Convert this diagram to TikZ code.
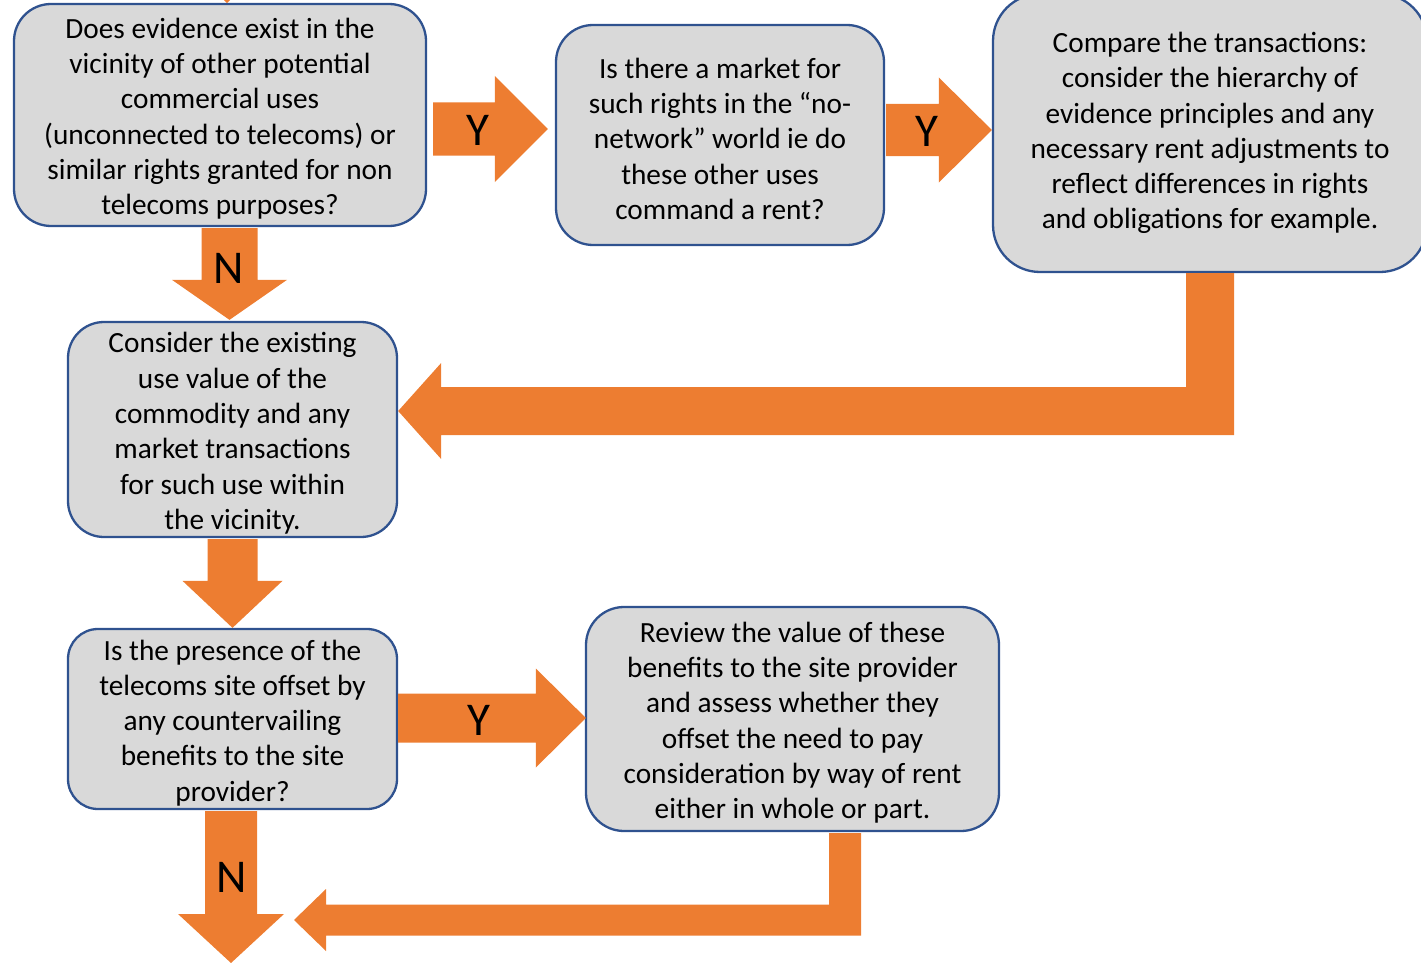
\documentclass[tikz,border=0pt]{standalone}
\usepackage{fontspec}
\setmainfont{Carlito}
\usetikzlibrary{calc}
\definecolor{arroworange}{HTML}{ED7D31}
\definecolor{boxgray}{HTML}{D9D9D9}
\definecolor{boxblue}{HTML}{2F528F}
% taller first line, so the text block sits slightly lower in its box
\newcommand{\flowstrut}{\rule{0pt}{28pt}}

\begin{document}
\begin{tikzpicture}[x=1pt,y=-1pt,
  stepbox/.style={draw=boxblue, fill=boxgray, line width=2.3pt, align=center,
    inner sep=0pt, font=\fontsize{29.3}{35.3}\selectfont},
  flow/.style={fill=arroworange},
  answer/.style={inner sep=0pt, font=\fontsize{47}{50}\selectfont}]
\useasboundingbox (0,0) rectangle (1421,963);
\clip (0,0) rectangle (1421,963);

% decision and action boxes
\node[stepbox, minimum width=412pt, minimum height=222pt, rounded corners=37pt] (q1) at (220,115)
  {\flowstrut Does evidence exist in the\\vicinity of other potential\\commercial uses\\(unconnected to telecoms) or\\similar rights granted for non\\telecoms purposes?};
\node[stepbox, minimum width=328pt, minimum height=220pt, rounded corners=37pt] (q2) at (720,135)
  {\flowstrut Is there a market for\\such rights in the “no-\\network” world ie do\\these other uses\\command a rent?};
\node[stepbox, minimum width=434pt, minimum height=278pt, rounded corners=47pt] (q3) at (1210,133)
  {Compare the transactions:\\consider the hierarchy of\\evidence principles and any\\necessary rent adjustments to\\reflect differences in rights\\and obligations for example.};
\node[stepbox, minimum width=329pt, minimum height=215pt, rounded corners=36pt] (q4) at (232.5,429.5)
  {\flowstrut Consider the existing\\use value of the\\commodity and any\\market transactions\\for such use within\\the vicinity.};
\node[stepbox, minimum width=329pt, minimum height=180pt, rounded corners=30pt] (q5) at (232.5,719)
  {\flowstrut Is the presence of the\\telecoms site offset by\\any countervailing\\benefits to the site\\provider?};
\node[stepbox, minimum width=413pt, minimum height=224pt, rounded corners=38pt] (q6) at (792.5,719)
  {\flowstrut Review the value of these\\benefits to the site provider\\and assess whether they\\offset the need to pay\\consideration by way of rent\\either in whole or part.};

% loose ends of the flow
\coordinate (entry) at (227,3);
\coordinate (exitpt) at (231,963);
\coordinate (merge) at (294,920);

% incoming arrow at the top
\fill[flow] let \p2=(entry) in
  (\x2-25pt,\y2+120pt) -- (\x2-25pt,\y2+47pt) -- (\x2-50pt,\y2+47pt) -- (\x2,\y2)
  -- (\x2+50pt,\y2+47pt) -- (\x2+25pt,\y2+47pt) -- (\x2+25pt,\y2+120pt) -- cycle;

% q1 -> q2 (Y)
\fill[flow] let \p1=($(q1.east)+(6,14)$), \p2=($(q2.west)+(-7,0)$) in
  (\x1,\y1+26.5pt) -- (\x2-53pt,\y1+26.5pt) -- (\x2-53pt,\y1+53pt) -- (\x2,\y1)
  -- (\x2-53pt,\y1-53pt) -- (\x2-53pt,\y1-26.5pt) -- (\x1,\y1-26.5pt) -- cycle;
\node[answer] (y1) at (478,130) {Y};

% q2 -> q3 (Y)
\fill[flow] let \p1=($(q2.east)+(1,-5)$), \p2=(q3.west) in
  (\x1,\y1+26pt) -- (\x2-53pt,\y1+26pt) -- (\x2-53pt,\y1+52.5pt) -- (\x2,\y1)
  -- (\x2-53pt,\y1-52.5pt) -- (\x2-53pt,\y1-26pt) -- (\x1,\y1-26pt) -- cycle;
\node[answer] (y2) at (927,131) {Y};

% q1 -> q4 (N)
\fill[flow] let \p1=($(q1.south)+(9.5,1)$), \p2=($(q4.north)+(0,-1)$) in
  (\x1-28pt,\y1) -- (\x1-28pt,\y2+40pt) -- (\x1-57.5pt,\y2+40pt) -- (\x1,\y2)
  -- (\x1+57.5pt,\y2+40pt) -- (\x1+28pt,\y2+40pt) -- (\x1+28pt,\y1) -- cycle;
\node[answer] (n1) at (228.5,268.5) {N};

% q3 -> q4
\fill[flow] let \p1=(q3.south), \p2=(q4.east), \p3=(0,411) in
  (\x1-24pt,\y1) -- (\x1-24pt,\y3+24pt) -- (\x2+43pt,\y3+24pt) -- (\x2+43pt,\y3+48pt)
  -- (\x2,\y3) -- (\x2+43pt,\y3-48pt) -- (\x2+43pt,\y3-24pt) -- (\x1+24pt,\y3-24pt)
  -- (\x1+24pt,\y1) -- cycle;

% q4 -> q5
\fill[flow] let \p1=($(q4.south)+(0,1)$), \p2=(q5.north) in
  (\x1-25pt,\y1) -- (\x1-25pt,\y2+47pt) -- (\x1-50pt,\y2+47pt) -- (\x1,\y2)
  -- (\x1+50pt,\y2+47pt) -- (\x1+25pt,\y2+47pt) -- (\x1+25pt,\y1) -- cycle;

% q5 -> q6 (Y)
\fill[flow] let \p1=($(q5.east)+(0,-1)$), \p2=($(q6.west)+(1,0)$) in
  (\x1,\y1+24.5pt) -- (\x2-50pt,\y1+24.5pt) -- (\x2-50pt,\y1+49.5pt) -- (\x2,\y1)
  -- (\x2-50pt,\y1-49.5pt) -- (\x2-50pt,\y1-24.5pt) -- (\x1,\y1-24.5pt) -- cycle;
\node[answer] (y3) at (479,720) {Y};

% q5 -> onwards (N)
\fill[flow] let \p1=($(q5.south)+(-1.5,1)$), \p2=(exitpt) in
  (\x1-26pt,\y1) -- (\x1-26pt,\y2+49pt) -- (\x1-53pt,\y2+49pt) -- (\x1,\y2)
  -- (\x1+53pt,\y2+49pt) -- (\x1+26pt,\y2+49pt) -- (\x1+26pt,\y1) -- cycle;
\node[answer] (n2) at (232,877) {N};

% q6 -> onwards
\fill[flow] let \p1=($(q6.south)+(52.5,1)$), \p2=(merge) in
  (\x1-16pt,\y1) -- (\x1-16pt,\y2+15.5pt) -- (\x2+32pt,\y2+15.5pt) -- (\x2+32pt,\y2+31pt)
  -- (\x2,\y2) -- (\x2+32pt,\y2-31pt) -- (\x2+32pt,\y2-15.5pt) -- (\x1+16pt,\y2-15.5pt)
  -- (\x1+16pt,\y1) -- cycle;
\end{tikzpicture}
\end{document}
